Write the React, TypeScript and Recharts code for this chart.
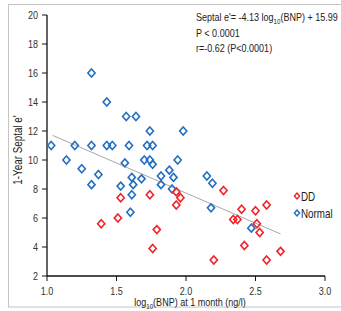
import React from 'react';
import { ScatterChart, Scatter, XAxis, YAxis, ReferenceLine, Customized } from 'recharts';

const ddX = [1.39, 1.51, 1.53, 1.74, 1.76, 1.79, 1.93, 1.93, 1.96, 2.2, 2.27, 2.34, 2.37, 2.4, 2.42, 2.5, 2.51, 2.53, 2.58, 2.58, 2.68];
const ddY = [5.6, 6.0, 7.4, 7.6, 3.9, 5.2, 7.8, 6.9, 7.4, 3.1, 7.9, 5.9, 5.9, 6.6, 4.1, 6.5, 5.6, 5.0, 6.9, 3.1, 3.7];

const normalX = [1.03, 1.14, 1.2, 1.25, 1.32, 1.32, 1.32, 1.37, 1.43, 1.43, 1.47, 1.53, 1.56, 1.57, 1.59, 1.6, 1.61, 1.61, 1.62, 1.64, 1.68, 1.7, 1.72, 1.74, 1.74, 1.76, 1.76, 1.82, 1.82, 1.88, 1.9, 1.91, 1.94, 1.98, 2.15, 2.19, 2.18, 2.47];
const normalY = [11, 10, 11, 9.4, 16, 11, 8.3, 9.0, 14, 11, 11, 8.2, 9.8, 13, 11, 6.4, 7.6, 8.8, 8.3, 13, 8.7, 10, 11, 12, 10, 11, 9.7, 8.9, 8.3, 9.3, 8.0, 8.8, 10, 12, 8.9, 8.4, 6.7, 5.3];

const seriesNames = ['DD', 'Normal'];
const seriesColors = ['#f0222a', '#236fc2'];

const xTicks = [1.0, 1.5, 2.0, 2.5, 3.0];
const yTicks = [2, 4, 6, 8, 10, 12, 14, 16, 18, 20];

const trendX = [1.04, 2.68];
const trendY = [11.7, 4.9];

const annotationLines = ['P < 0.0001', 'r=-0.62 (P<0.0001)'];

const FONT = "'Liberation Sans', Arial, sans-serif";
const SX = 0.82;

const ddData = ddX.map((x, i) => ({ x, y: ddY[i] }));
const normalData = normalX.map((x, i) => ({ x, y: normalY[i] }));

const makeDiamond = (color: string) => (props: any) => {
  const { cx, cy } = props;
  if (cx == null || cy == null) return <g />;
  return (
    <path
      d={`M${cx},${cy - 4}L${cx + 3.6},${cy}L${cx},${cy + 4}L${cx - 3.6},${cy}Z`}
      fill="none"
      stroke={color}
      strokeWidth={1.6}
    />
  );
};

const XTick = (props: any) => {
  const { x, y, payload } = props;
  return (
    <g transform={`translate(${x},${y})`}>
      <text transform={`scale(${SX},1)`} x={0} y={0} dy="0.71em" textAnchor="middle" fontSize={11} fill="#333" fontFamily={FONT}>
        {Number(payload.value).toFixed(1)}
      </text>
    </g>
  );
};

const YTick = (props: any) => {
  const { x, y, payload } = props;
  return (
    <g transform={`translate(${x},${y})`}>
      <text transform={`scale(${SX},1)`} x={0} y={0} dy="0.355em" textAnchor="end" fontSize={11} fill="#333" fontFamily={FONT}>
        {payload.value}
      </text>
    </g>
  );
};

const Narrow = ({ x, y, rotate = 0, anchor = 'start', size = 11, children }: any) => (
  <g transform={`translate(${x},${y}) rotate(${rotate})`}>
    <text transform={`scale(${SX},1)`} x={0} y={0} fontSize={size} fill="#222" textAnchor={anchor} fontFamily={FONT}>
      {children}
    </text>
  </g>
);

const Overlay = () => (
  <g>
    <rect x={8.5} y={4.5} width={340} height={302.5} fill="none" stroke="#c4c4c4" strokeWidth={1} />
    <Narrow x={196} y={21}>
      {"Septal e'= -4.13 log"}
      <tspan fontSize={7.5} dy={3}>10</tspan>
      <tspan dy={-3}>{'(BNP) + 15.99'}</tspan>
    </Narrow>
    {annotationLines.map((t, i) => (
      <Narrow key={t} x={196} y={36.5 + i * 15}>
        {t}
      </Narrow>
    ))}
    <Narrow x={22} y={150} rotate={-90} anchor="middle" size={12}>
      {"1-Year Septal e'"}
    </Narrow>
    <Narrow x={190} y={306} anchor="middle" size={11}>
      log
      <tspan fontSize={7.5} dy={3}>10</tspan>
      <tspan dy={-3}>(BNP) at 1 month (ng/l)</tspan>
    </Narrow>
    {seriesNames.map((name, i) => {
      const cy = 196 + i * 17;
      const cx = 297;
      return (
        <g key={name}>
          <path
            d={`M${cx},${cy - 3}L${cx + 2.6},${cy}L${cx},${cy + 3}L${cx - 2.6},${cy}Z`}
            fill="none"
            stroke={seriesColors[i]}
            strokeWidth={1.4}
          />
          <Narrow x={301} y={cy + 4.5} size={12}>
            {name}
          </Narrow>
        </g>
      );
    })}
  </g>
);

export default function App() {
  return (
    <div style={{ position: 'absolute', left: 0, top: 0, width: 341, height: 311, background: '#fff' }}>
      <ScatterChart width={341} height={311} margin={{ top: 15, right: 16, bottom: 0, left: 0 }}>
        <XAxis
          type="number"
          dataKey="x"
          domain={[1, 3]}
          ticks={xTicks}
          height={35}
          tickSize={5}
          tickMargin={6}
          axisLine={{ stroke: '#111', strokeWidth: 1.3 }}
          tickLine={{ stroke: '#111' }}
          tick={<XTick />}
          allowDataOverflow
        />
        <YAxis
          type="number"
          dataKey="y"
          domain={[2, 20]}
          ticks={yTicks}
          width={47}
          tickSize={5}
          tickMargin={4}
          axisLine={{ stroke: '#111', strokeWidth: 1.3 }}
          tickLine={{ stroke: '#111' }}
          tick={<YTick />}
          allowDataOverflow
        />
        <ReferenceLine
          segment={[
            { x: trendX[0], y: trendY[0] },
            { x: trendX[1], y: trendY[1] },
          ]}
          stroke="#a8a8a8"
          strokeWidth={1}
          ifOverflow="visible"
        />
        <Scatter name={seriesNames[1]} data={normalData} shape={makeDiamond(seriesColors[1])} isAnimationActive={false} />
        <Scatter name={seriesNames[0]} data={ddData} shape={makeDiamond(seriesColors[0])} isAnimationActive={false} />
        <Customized component={Overlay} />
      </ScatterChart>
    </div>
  );
}
